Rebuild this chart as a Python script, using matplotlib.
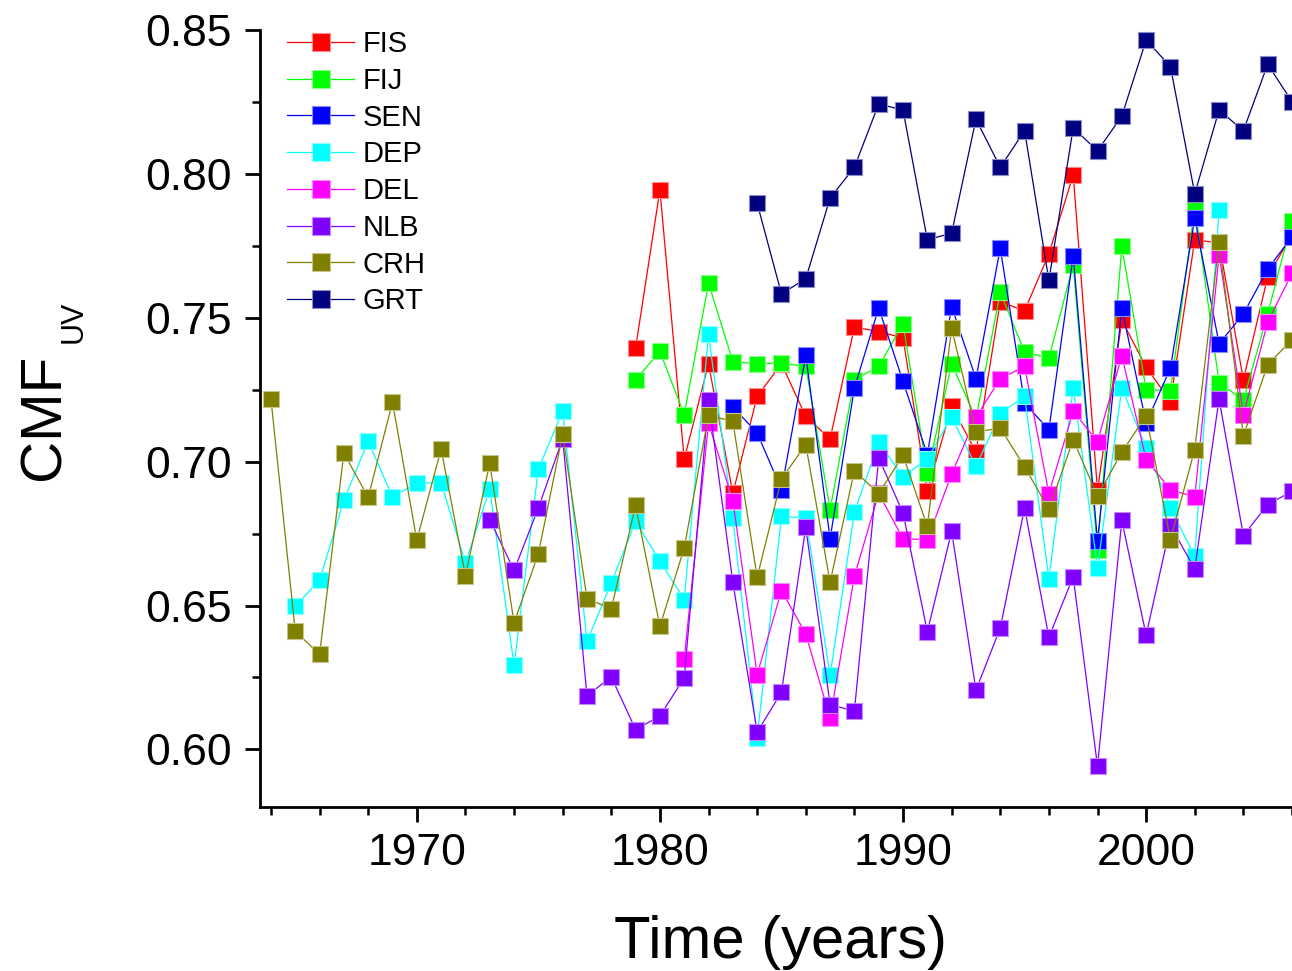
import matplotlib
matplotlib.use("Agg")
import matplotlib.pyplot as plt
from matplotlib.ticker import MultipleLocator

plt.rcParams['font.family'] = ['Liberation Sans', 'DejaVu Sans']

# ---- data ----
years_FIS = list(range(1979, 2007))
FIS = [0.7395, 0.7944, 0.7009, 0.7340, 0.6890, 0.7227, 0.7340, 0.7157, 0.7079, 0.7468,
       0.7452, 0.7430, 0.6897, 0.7192, 0.7034, 0.7556, 0.7524, 0.7722, 0.7997, 0.6900,
       0.7491, 0.7329, 0.7209, 0.7771, 0.7760, 0.7285, 0.7642, 0.7790]

years_FIJ = list(range(1979, 2007))
FIJ = [0.7285, 0.7383, 0.7163, 0.7620, 0.7348, 0.7340, 0.7343, 0.7331, 0.6833, 0.7285,
       0.7331, 0.7479, 0.6961, 0.7340, 0.7150, 0.7588, 0.7381, 0.7360, 0.7684, 0.6692,
       0.7748, 0.7250, 0.7247, 0.7884, 0.7275, 0.7213, 0.7514, 0.7837]

years_SEN = list(range(1983, 2007))
SEN = [0.7190, 0.7100, 0.6903, 0.7369, 0.6732, 0.7256, 0.7534, 0.7279, 0.7024, 0.7539,
       0.7288, 0.7742, 0.7203, 0.7111, 0.7715, 0.6723, 0.7534, 0.7134, 0.7325, 0.7846,
       0.7410, 0.7513, 0.7669, 0.7782]

years_DEP = list(range(1965, 2004))
DEP = [0.6498, 0.6588, 0.6866, 0.7071, 0.6877, 0.6926, 0.6926, 0.6648, 0.6905, 0.6292,
       0.6975, 0.7175, 0.6376, 0.6579, 0.6793, 0.6654, 0.6521, 0.7443, 0.6804, 0.6040,
       0.6810, 0.6804, 0.6257, 0.6824, 0.7067, 0.6948, 0.7009, 0.7155, 0.6984, 0.7167,
       0.7227, 0.6593, 0.7256, 0.6631, 0.7256, 0.7048, 0.6839, 0.6671, 0.7873]

years_DEL = list(range(1981, 2007))
DEL = [0.6315, 0.7134, 0.6865, 0.6260, 0.6552, 0.6402, 0.6108, 0.6602, 0.6890, 0.6732,
       0.6729, 0.6957, 0.7155, 0.7288, 0.7331, 0.6889, 0.7175, 0.7070, 0.7368, 0.7007,
       0.6903, 0.6877, 0.7719, 0.7163, 0.7485, 0.7655]

years_NLB = list(range(1973, 2007))
NLB = [0.6799, 0.6622, 0.6839, 0.7080, 0.6187, 0.6252, 0.6069, 0.6116, 0.6249, 0.7213,
       0.6581, 0.6060, 0.6199, 0.6772, 0.6156, 0.6133, 0.7013, 0.6822, 0.6409, 0.6758,
       0.6206, 0.6422, 0.6839, 0.6390, 0.6600, 0.5942, 0.6796, 0.6397, 0.6778, 0.6627,
       0.7218, 0.6743, 0.6851, 0.6897]

years_CRH = list(range(1964, 2007))
CRH = [0.7218, 0.6411, 0.6330, 0.7030, 0.6876, 0.7207, 0.6727, 0.7044, 0.6604, 0.6995,
       0.6440, 0.6680, 0.7096, 0.6524, 0.6489, 0.6848, 0.6428, 0.6700, 0.7161, 0.7140,
       0.6598, 0.6940, 0.7059, 0.6581, 0.6969, 0.6889, 0.7022, 0.6775, 0.7464, 0.7103,
       0.7117, 0.6982, 0.6835, 0.7076, 0.6880, 0.7033, 0.7160, 0.6729, 0.7042, 0.7763,
       0.7090, 0.7337, 0.7424]

years_GRT = list(range(1984, 2007))
GRT = [0.7898, 0.7583, 0.7636, 0.7916, 0.8023, 0.8243, 0.8222, 0.7771, 0.7794, 0.8190,
       0.8023, 0.8150, 0.7630, 0.8160, 0.8080, 0.8201, 0.8465, 0.8373, 0.7931, 0.8222,
       0.8150, 0.8381, 0.8251]

series_names = ["FIS", "FIJ", "SEN", "DEP", "DEL", "NLB", "CRH", "GRT"]
series_years = [years_FIS, years_FIJ, years_SEN, years_DEP, years_DEL, years_NLB, years_CRH, years_GRT]
series_vals = [FIS, FIJ, SEN, DEP, DEL, NLB, CRH, GRT]
series_colors = ["#FF0000", "#00FF00", "#0000FF", "#00FFFF", "#FF00FF", "#8000FF", "#808000", "#000080"]

x_label = "Time (years)"

# ---- figure ----
W, H = 1292, 971
fig = plt.figure(figsize=(W / 100, H / 100), dpi=100)
ax = fig.add_axes([260 / W, 1 - 807 / H, 1 - 260 / W, (807 - 30) / H])


def lighten(c, f=0.55):
    import matplotlib.colors as mc
    r, g, b = mc.to_rgb(c)
    return (r + (1 - r) * f, g + (1 - g) * f, b + (1 - b) * f)


for name, xs, ys, col in zip(series_names, series_years, series_vals, series_colors):
    ax.plot(xs, ys, color=col, lw=0.9, marker='s', markersize=11,
            markerfacecolor=col, markeredgecolor=lighten(col), markeredgewidth=0.8,
            label=name)

ax.set_xlim(1963.55, 2006.0)
ax.set_ylim(0.58, 0.85)

for s in ['top', 'right']:
    ax.spines[s].set_visible(False)
for s in ['left', 'bottom']:
    ax.spines[s].set_linewidth(2.0)

ax.xaxis.set_major_locator(MultipleLocator(10))
ax.xaxis.set_minor_locator(MultipleLocator(2))
ax.yaxis.set_major_locator(MultipleLocator(0.05))
ax.yaxis.set_minor_locator(MultipleLocator(0.025))
ax.tick_params(which='major', direction='out', length=11, width=2.0, labelsize=32)
ax.tick_params(which='minor', direction='out', length=5.5, width=1.8)
ax.tick_params(axis='y', which='major', pad=9)
ax.tick_params(axis='x', which='major', pad=8)
ax.yaxis.set_major_formatter(matplotlib.ticker.FormatStrFormatter('%.2f'))

leg = ax.legend(loc='upper left', bbox_to_anchor=((287 - 260) / (W - 260), 1.0),
                frameon=False, fontsize=21, handlelength=2.3, handletextpad=0.3,
                labelspacing=0.30, borderaxespad=0, borderpad=0, markerscale=1.15)

fig.text(781 / W, 1 - 958 / H, x_label, ha='center', va='baseline', fontsize=43)
fig.text(60 / W, 1 - 417 / H, "CMF", rotation=90, rotation_mode='anchor',
         ha='center', va='baseline', fontsize=42)
fig.text(82 / W, 1 - 322 / H, "UV", rotation=90, rotation_mode='anchor',
         ha='center', va='baseline', fontsize=22)

fig.savefig("out.png", dpi=100)
